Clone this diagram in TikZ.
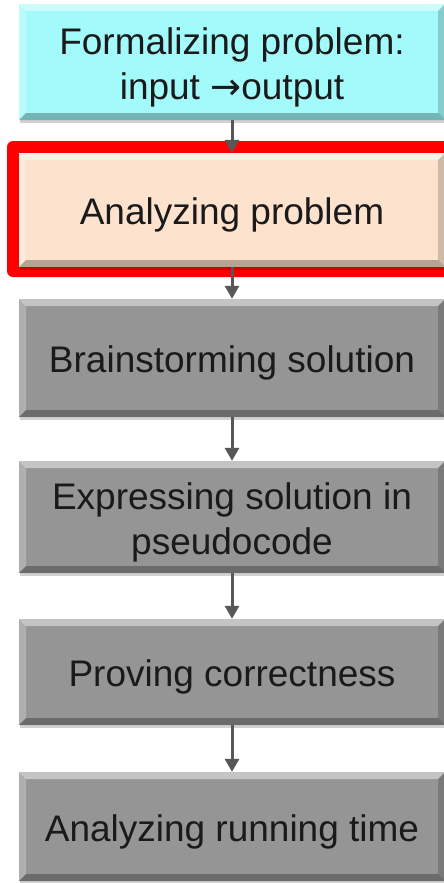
\documentclass[tikz,border=0pt]{standalone}
\usepackage{fontspec}
\setmainfont{Liberation Sans}
\newfontfamily\arrowfont{DejaVu Sans}
\usetikzlibrary{arrows.meta,shadows}
\definecolor{stepcyan}{HTML}{A3FAFA}
\definecolor{steppeach}{HTML}{FDE3CE}
\definecolor{stepgray}{HTML}{959595}
\definecolor{arrowgray}{HTML}{575757}
\definecolor{textdark}{HTML}{1A1A1A}
\tikzset{
  steptext/.style={align=center, text=textdark, font=\fontsize{37}{45}\selectfont,
    inner sep=0pt, yshift=-5pt},
  bevelbox/.style={
    rectangle, minimum width=426pt, inner sep=0pt,
    label={[steptext]center:#1},
    drop shadow={shadow xshift=1pt, shadow yshift=-3pt, opacity=0.18, fill=black},
    path picture={
      % lit top and left edges
      \fill[white,opacity=0.45]
        (path picture bounding box.north west) -- (path picture bounding box.north east)
        -- ([shift={(-7pt,-7pt)}]path picture bounding box.north east)
        -- ([shift={(7pt,-7pt)}]path picture bounding box.north west) -- cycle;
      \fill[white,opacity=0.25]
        (path picture bounding box.north west) -- ([shift={(7pt,-7pt)}]path picture bounding box.north west)
        -- ([shift={(7pt,7pt)}]path picture bounding box.south west)
        -- (path picture bounding box.south west) -- cycle;
      % shaded bottom and right edges
      \fill[black,opacity=0.28]
        (path picture bounding box.south west) -- ([shift={(7pt,7pt)}]path picture bounding box.south west)
        -- ([shift={(-7pt,7pt)}]path picture bounding box.south east)
        -- (path picture bounding box.south east) -- cycle;
      \fill[black,opacity=0.18]
        (path picture bounding box.north east) -- (path picture bounding box.south east)
        -- ([shift={(-7pt,7pt)}]path picture bounding box.south east)
        -- ([shift={(-7pt,-7pt)}]path picture bounding box.north east) -- cycle;
    }
  },
  flowarrow/.style={draw=arrowgray, line width=3pt,
    -{Triangle[width=14pt,length=13pt]}, shorten >=0pt},
}
\begin{document}
\begin{tikzpicture}[x=1pt,y=-1pt]
\useasboundingbox (0,0) rectangle (444,883);
\fill[white] (0,0) rectangle (444,883);

% highlight frame round the current step
\node[fill=red, rounded corners=6pt, minimum width=448pt, minimum height=136pt, inner sep=0pt]
  (hl) at (231,209) {};

\node[bevelbox={Formalizing problem:\\input {\arrowfont →}output},
  fill=stepcyan,  minimum height=116pt] (f1) at (232,62) {};
\node[bevelbox={Analyzing problem},
  fill=steppeach, minimum height=114pt] (f2) at (232,210) {};
\node[bevelbox={Brainstorming solution},
  fill=stepgray,  minimum height=118pt] (f3) at (232,358) {};
\node[bevelbox={Expressing solution in\\pseudocode},
  fill=stepgray,  minimum height=112pt] (f4) at (232,517) {};
\node[bevelbox={Proving correctness},
  fill=stepgray,  minimum height=106pt] (f5) at (232,672) {};
\node[bevelbox={Analyzing running time},
  fill=stepgray,  minimum height=109pt] (f6) at (232,826.5) {};

\draw[flowarrow] (f1.south) -- (f2.north);
\draw[flowarrow] (f2.south) -- (f3.north);
\draw[flowarrow] (f3.south) -- (f4.north);
\draw[flowarrow] (f4.south) -- (f5.north);
\draw[flowarrow] (f5.south) -- (f6.north);
\end{tikzpicture}
\end{document}
